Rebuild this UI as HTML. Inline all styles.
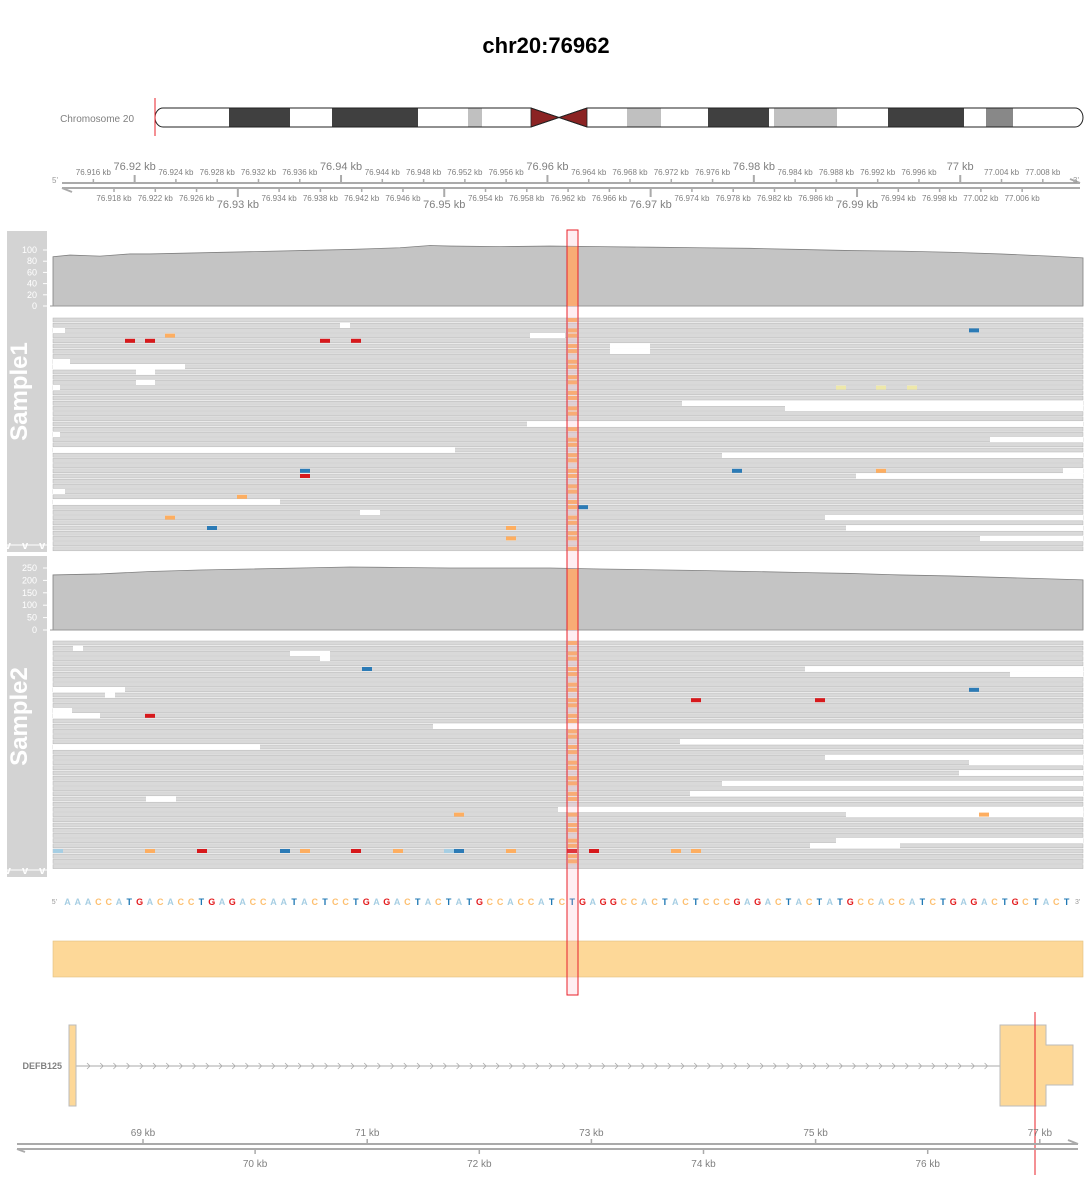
<!DOCTYPE html>
<html><head><meta charset="utf-8"><style>
body{margin:0;background:#fff;font-family:"Liberation Sans",sans-serif}
svg{display:block}
text{font-family:"Liberation Sans",sans-serif}
</style></head><body>
<svg id="plot" width="1090" height="1178" viewBox="0 0 1090 1178" xmlns="http://www.w3.org/2000/svg">
<text x="546" y="53" text-anchor="middle" font-size="22" font-weight="bold">chr20:76962</text>
<g id="ideo"></g>
<g id="gaxis"></g>
<g id="s1"></g>
<g id="s2"></g>
<g id="seq"></g>
<rect x="53" y="941" width="1030" height="36" fill="#fdd898" stroke="#e0c080" stroke-width="0.6"/>
<g id="gene"></g>
<g id="baxis"></g>
<rect x="567" y="230" width="11" height="765" fill="rgba(255,170,190,0.2)" stroke="#e8202a" stroke-width="1"/>
</svg>
<script>
const NS="http://www.w3.org/2000/svg";
function mk(p,t,a,txt){const e=document.createElementNS(NS,t);for(const k in a)e.setAttribute(k,a[k]);if(txt!==undefined)e.textContent=txt;p.appendChild(e);return e;}

// ---- data ----
const ideoBands=[[0,"w"],[74,"d"],[135,"w"],[177,"d"],[263,"w"],[313,"l"],[327,"w"],[376,"c"],[432,"w"],[472,"l2"],[506,"w"],[553,"d"],[614,"w"],[619,"l"],[682,"w"],[733,"d"],[809,"w"],[831,"g"],[858,"w"]];
const topTicksBp=[76916,76918,76920,76922,76924,76926,76928,76930,76932,76934,76936,76938,76940,76942,76944,76946,76948,76950,76952,76954,76956,76958,76960,76962,76964,76966,76968,76970,76972,76974,76976,76978,76980,76982,76984,76986,76988,76990,76992,76994,76996,76998,77000,77002,77004,77006,77008];
const cov1X=[53,70,100,130,150,200,250,300,350,400,430,450,500,550,600,650,700,750,800,850,900,950,1000,1050,1083];
const cov1V=[88,91,89,93,93,95,97,99,101,104,108,107,106,107,106,105,104,103,101,99,98,96,93,89,86];
const cov2X=[53,100,150,200,250,300,350,400,450,500,550,600,650,700,750,800,850,900,950,1000,1050,1083];
const cov2V=[222,226,236,242,246,250,254,252,250,250,250,246,243,240,236,232,228,222,218,212,206,202];
const cov1Ticks=[0,20,40,60,80,100];
const cov2Ticks=[0,50,100,150,200,250];
const seqStr="AAACCATGACACCTGAGACCAATACTCCTGAGACTACTATGCCACCATCTGAGGCCACTACTCCCGAGACTACTATGCCACCATCTGAGACTGCTACT";
const baseColors={A:"#a6cee3",C:"#fdbf6f",G:"#e31a1c",T:"#1f78b4"};
const bottomTicksKb=[69,70,71,72,73,74,75,76,77];
const gaps1=[[1,340,350],[2,53,65],[3,530,565],[5,610,650],[6,610,650],[8,53,70],[9,53,185],[10,136,155],[12,136,155],[13,53,60],[16,682,1083],[17,785,1083],[20,527,1083],[22,53,60],[23,990,1083],[25,53,455],[26,722,1083],[29,1063,1083],[30,856,1083],[33,53,65],[35,53,280],[37,360,380],[38,825,1083],[40,846,1083],[42,980,1083]];
const gaps2=[[1,73,83],[2,290,330],[3,320,330],[5,805,1083],[6,1010,1083],[9,53,125],[10,105,115],[13,53,72],[14,53,100],[16,433,1083],[19,680,1083],[20,53,260],[22,825,1083],[23,969,1083],[25,959,1083],[27,722,1083],[29,690,1083],[30,146,176],[32,558,1083],[33,846,1083],[38,836,1083],[39,810,900]];
const mism1=[[3,170,"#fdae61"],[4,130,"#d7191c"],[4,150,"#d7191c"],[4,325,"#d7191c"],[4,356,"#d7191c"],[2,974,"#2c7bb6"],[13,841,"#eee8aa"],[13,881,"#eee8aa"],[13,912,"#eee8aa"],[29,305,"#2c7bb6"],[29,737,"#2c7bb6"],[29,881,"#fdae61"],[30,305,"#d7191c"],[34,242,"#fdae61"],[36,583,"#2c7bb6"],[38,170,"#fdae61"],[40,212,"#2c7bb6"],[40,511,"#fdae61"],[42,511,"#fdae61"]];
const mism2=[[5,367,"#2c7bb6"],[9,974,"#2c7bb6"],[11,696,"#d7191c"],[11,820,"#d7191c"],[14,150,"#d7191c"],[33,459,"#fdae61"],[33,984,"#fdae61"],[40,58,"#a6cee3"],[40,150,"#fdae61"],[40,202,"#d7191c"],[40,285,"#2c7bb6"],[40,305,"#fdae61"],[40,356,"#d7191c"],[40,398,"#fdae61"],[40,449,"#a6cee3"],[40,459,"#2c7bb6"],[40,511,"#fdae61"],[40,572,"#d7191c"],[40,594,"#d7191c"],[40,676,"#fdae61"],[40,696,"#fdae61"]];

const xBp=bp=>114+(bp-76918)*10.32;
const xKb=kb=>143+(kb-69)*112.1;

(function(){
 const g=document.getElementById('ideo');
 const t=mk(g,'text',{x:134,y:122,'text-anchor':'end','font-size':10,fill:'#808080'},'Chromosome 20');
 
 const x0=155,w=928,y=108,h=19;
 const col={w:"#fff",d:"#404040",l:"#c0c0c0",l2:"#c0c0c0",g:"#888",c:"#8b2323"};
 mk(g,'rect',{x:x0,y:y,width:w,height:h,rx:8,fill:'#fff'});
 ideoBands.forEach((b,i)=>{
  const s=x0+b[0],e=x0+(i+1<ideoBands.length?ideoBands[i+1][0]:w);
  if(b[1]==="c"){const m=(s+e)/2;
   const p=mk(g,'path',{d:`M${s},${y} L${m},${y+h/2} L${s},${y+h} Z M${e},${y} L${m},${y+h/2} L${e},${y+h} Z`,fill:col.c,stroke:'#222','stroke-width':0.8});
   }
  else if(b[1]!=="w"){const r=mk(g,'rect',{x:s,y:y,width:e-s,height:h,fill:col[b[1]]});
   }
 });
 mk(g,'path',{d:`M${x0+8},${y} H531 L587,${y+h} H${x0+w-8} A8,9.5 0 0 0 ${x0+w-8},${y} H587 L531,${y+h} H${x0+8} A8,9.5 0 0 1 ${x0+8},${y}`,fill:'none',stroke:'#222','stroke-width':1});
 mk(g,'line',{x1:155,x2:155,y1:98,y2:136,stroke:'#e8202a','stroke-width':1});
})();

(function(){
 const g=document.getElementById('gaxis');
 mk(g,'line',{x1:62,x2:1080,y1:183,y2:183,stroke:'#aaa','stroke-width':2});
 mk(g,'line',{x1:62,x2:1080,y1:188,y2:188,stroke:'#aaa','stroke-width':2});
 mk(g,'line',{x1:62,x2:72,y1:188,y2:192,stroke:'#aaa','stroke-width':2});
 mk(g,'line',{x1:1080,x2:1070,y1:183,y2:179,stroke:'#aaa','stroke-width':2});
 mk(g,'text',{x:58,y:183,'text-anchor':'end','font-size':8,fill:'#999'},"5'");
 mk(g,'text',{x:1073,y:183,'font-size':8,fill:'#999'},"3'");
 topTicksBp.forEach((bp,i)=>{
  const x=xBp(bp),major=bp%10===0,up=i%2===0;
  const lab=(bp/1000).toString()+" kb";
  if(up){mk(g,'line',{x1:x,x2:x,y1:major?175:179,y2:183,stroke:'#aaa','stroke-width':major?2:1.5});
   const t=mk(g,'text',{x:x,y:major?170:175,'text-anchor':'middle','font-size':major?11:8,fill:'#808080'},lab);
   }
  else{mk(g,'line',{x1:x,x2:x,y1:188,y2:major?197:192,stroke:'#aaa','stroke-width':major?2:1.5});
   const t=mk(g,'text',{x:x,y:major?208:201,'text-anchor':'middle','font-size':major?11:8,fill:'#808080'},lab);
   }
 });
})();

function sample(id,name,top,bottom,covTop,covBot,covMax,covX,covV,ticks,readTop,nRows,gaps,mism){
 const g=document.getElementById(id);
 const p=mk(g,'rect',{x:7,y:top,width:40,height:bottom-top,fill:'#d3d3d3'});
 
 const t=mk(g,'text',{transform:`translate(27,${(top+bottom)/2}) rotate(-90)`,'text-anchor':'middle','font-size':24,'font-weight':'bold',fill:'#fff'},name);
 
 mk(g,'text',{x:27,y:bottom-3,'text-anchor':'middle','font-size':11,'font-weight':'bold',fill:'#fff','letter-spacing':'4'},'v v v');
 mk(g,'line',{x1:7,x2:47,y1:bottom-7,y2:bottom-7,stroke:'#fff','stroke-width':1});
 const yC=v=>covBot-v/covMax*(covBot-covTop);
 mk(g,'line',{x1:50,x2:50,y1:covTop-8,y2:covBot,stroke:'#fff','stroke-width':1});
 ticks.forEach(v=>{mk(g,'line',{x1:43,x2:48,y1:yC(v),y2:yC(v),stroke:'#fff'});
  const tl=mk(g,'text',{x:37,y:yC(v)+3,'text-anchor':'end','font-size':9,fill:'#fff'},v);
  });
 let d=`M${covX[0]},${covBot}`;covX.forEach((x,i)=>d+=` L${x},${yC(covV[i])}`);d+=` L${covX[covX.length-1]},${covBot} Z`;
 const a=mk(g,'path',{d:d,fill:'#c4c4c4',stroke:'#808080','stroke-width':0.8});
 
 mk(g,'line',{x1:50,x2:1083,y1:covBot,y2:covBot,stroke:'#999','stroke-width':1});
 const ci=covX.findIndex(x=>x>=568);
 const oc=mk(g,'rect',{x:567,y:yC(covV[ci]),width:11,height:covBot-yC(covV[ci]),fill:'#f7ad63'});
 
 const pitch=5.2;
 for(let r=0;r<nRows;r++){
  const y=readTop+r*pitch;
  const rr=mk(g,'rect',{x:53,y:y,width:1030,height:4,fill:'#d9d9d9',stroke:'#b5b5b5','stroke-width':0.5});
  
  if(r%3!==1){const m=mk(g,'rect',{x:568,y:y,width:9,height:4,fill:'#f7ad63'});
   }
 }
 gaps.forEach(q=>{const y=readTop+q[0]*pitch-0.6;
  const w=mk(g,'rect',{x:q[1],y:y,width:q[2]-q[1],height:5.2,fill:'#fff'});
  });
 mism.forEach(q=>{const y=readTop+q[0]*pitch;
  const m=mk(g,'rect',{x:q[1]-5,y:y,width:10,height:4,fill:q[2]});
  });
}
sample('s1','Sample1',231,552,250,306,100,cov1X,cov1V,cov1Ticks,318,45,gaps1,mism1);
sample('s2','Sample2',556,877,568,630,250,cov2X,cov2V,cov2Ticks,641,44,gaps2,mism2);

(function(){
 const g=document.getElementById('seq');
 mk(g,'text',{x:57,y:904,'text-anchor':'end','font-size':7,fill:'#999'},"5'");
 mk(g,'text',{x:1075,y:904,'font-size':7,fill:'#999'},"3'");
 [...seqStr].forEach((c,i)=>{
  const t=mk(g,'text',{x:67.5+i*10.3,y:905,'text-anchor':'middle','font-size':9,'font-weight':'bold',fill:baseColors[c]},c);
  
 });
})();

(function(){
 const g=document.getElementById('gene');
 const t=mk(g,'text',{x:62,y:1069,'text-anchor':'end','font-size':9,'font-weight':'bold',fill:'#808080'},'DEFB125');
 
 mk(g,'line',{x1:76,x2:1000,y1:1066,y2:1066,stroke:'#aaa','stroke-width':1});
 for(let x=90;x<995;x+=13.2){mk(g,'path',{d:`M${x-3},${1063} L${x},${1066} L${x-3},${1069}`,fill:'none',stroke:'#aaa','stroke-width':0.8});}
 const e1=mk(g,'rect',{x:69,y:1025,width:7,height:81,fill:'#fdd898',stroke:'#bbb'});
 
 const e2=mk(g,'path',{d:'M1000,1025 H1046 V1045 H1073 V1085 H1046 V1106 H1000 Z',fill:'#fdd898',stroke:'#bbb'});
 
 mk(g,'line',{x1:1035,x2:1035,y1:1012,y2:1175,stroke:'#e8202a','stroke-width':1});
})();

(function(){
 const g=document.getElementById('baxis');
 mk(g,'line',{x1:17,x2:1078,y1:1144,y2:1144,stroke:'#aaa','stroke-width':2});
 mk(g,'line',{x1:17,x2:1078,y1:1149,y2:1149,stroke:'#aaa','stroke-width':2});
 mk(g,'line',{x1:17,x2:25,y1:1149,y2:1152,stroke:'#aaa','stroke-width':2});
 mk(g,'line',{x1:1078,x2:1068,y1:1144,y2:1140,stroke:'#aaa','stroke-width':2});
 bottomTicksKb.forEach((kb,i)=>{
  const x=xKb(kb),up=i%2===0;
  mk(g,'line',{x1:x,x2:x,y1:up?1139:1149,y2:up?1144:1154,stroke:'#aaa','stroke-width':1.5});
  const t=mk(g,'text',{x:x,y:up?1136:1167,'text-anchor':'middle','font-size':10,fill:'#808080'},kb+' kb');
  
 });
})();
</script>
</body></html>
